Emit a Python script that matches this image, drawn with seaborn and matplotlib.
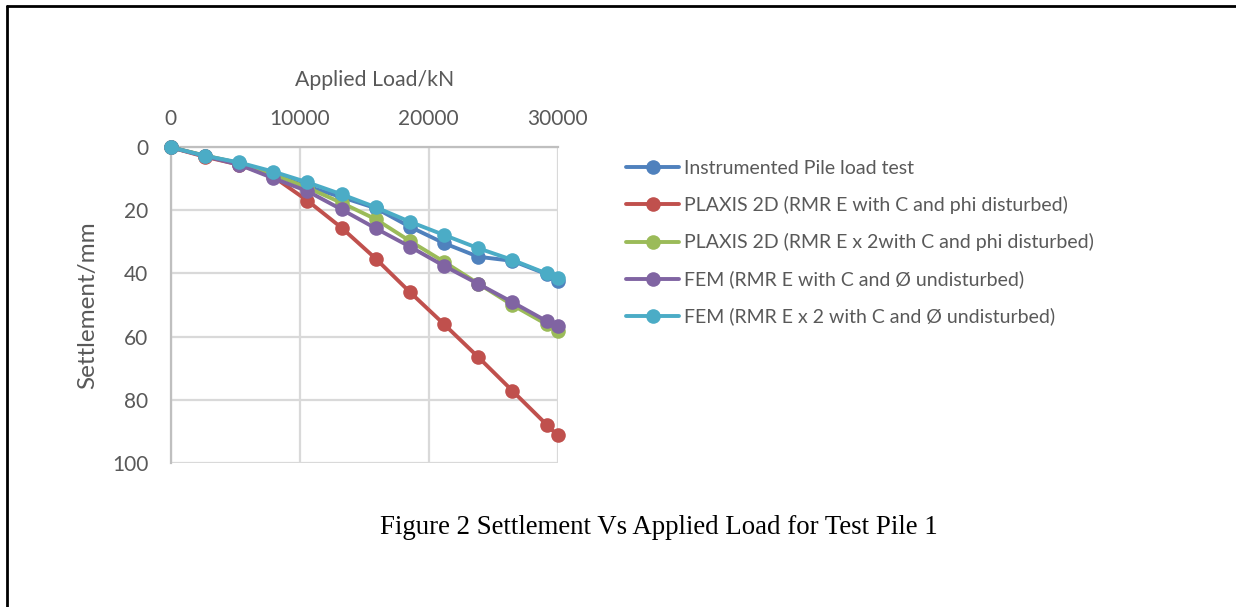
import matplotlib
matplotlib.use("Agg")
import matplotlib.pyplot as plt
from matplotlib.lines import Line2D
import seaborn as sns
import pandas as pd

# Applied load steps (kN)
loads = [0, 2650, 5300, 7950, 10600, 13250, 15900, 18550, 21200, 23850, 26500, 29150, 30000]

# Settlement (mm) for each series
pile_test = [0, 2.7, 5.0, 8.6, 12.4, 15.8, 19.3, 25.2, 30.4, 34.7, 36.0, 40.2, 42.3]
plaxis_e = [0, 3.0, 5.5, 9.3, 16.9, 25.5, 35.3, 45.9, 56.1, 66.5, 77.2, 87.9, 91.3]
plaxis_2e = [0, 2.6, 5.0, 8.6, 12.8, 17.6, 22.8, 29.7, 36.3, 43.2, 50.0, 56.1, 58.2]
fem_e = [0, 2.8, 5.5, 9.8, 13.9, 19.7, 25.7, 31.5, 37.6, 43.3, 49.1, 55.1, 56.6]
fem_2e = [0, 2.7, 4.8, 7.7, 11.1, 14.9, 19.0, 23.6, 27.8, 32.0, 35.7, 40.0, 41.5]

series_names = [
    "Instrumented Pile load test",
    "PLAXIS 2D (RMR E with C and phi disturbed)",
    "PLAXIS 2D (RMR E x 2with C and phi disturbed)",
    "FEM (RMR E with C and \u00d8 undisturbed)",
    "FEM (RMR E x 2 with C and \u00d8 undisturbed)",
]
series_values = [pile_test, plaxis_e, plaxis_2e, fem_e, fem_2e]
colors = ["#4F81BD", "#C0504D", "#9BBB59", "#8064A2", "#4BACC6"]

x_ticks = [0, 10000, 20000, 30000]
y_ticks = [0, 20, 40, 60, 80, 100]

sns.set_theme(style="white")
plt.rcParams["font.family"] = ["Lato", "DejaVu Sans"]
text_color = "#595959"
grid_color = "#D9D9D9"

frames = []
for name, vals in zip(series_names, series_values):
    frames.append(pd.DataFrame({"load": loads, "settlement": vals, "series": name}))
df = pd.concat(frames, ignore_index=True)

fig = plt.figure(figsize=(12.36, 6.07), dpi=100)
W, H = 1236, 607
left, right, top, bottom = 170.7, 557.5, 147.3, 462.7
ax = fig.add_axes([left / W, 1 - bottom / H, (right - left) / W, (bottom - top) / H])

for name, color in zip(series_names, colors):
    sub = df[df["series"] == name]
    sns.lineplot(data=sub, x="load", y="settlement", ax=ax, color=color,
                 marker="o", markersize=10.5, markeredgecolor=color,
                 markeredgewidth=0, linewidth=2.8, label=name, sort=False,
                 zorder=3, clip_on=False)

ax.set_xlim(0, 30000)
ax.set_ylim(100, 0)
ax.set_xticks(x_ticks)
ax.set_yticks(y_ticks)
ax.xaxis.tick_top()
ax.xaxis.set_label_position("top")
ax.tick_params(axis="both", length=0, labelsize=15, labelcolor=text_color)
ax.tick_params(axis="x", pad=13.5)
ax.tick_params(axis="y", pad=16)
ax.grid(True, color=grid_color, linewidth=1.6)
for side, sp in ax.spines.items():
    sp.set_visible(side in ("left", "top"))
    sp.set_color("#BFBFBF")
    sp.set_linewidth(1.6)

ax.set_xlabel("Applied Load/kN", fontsize=15.3, color=text_color)
ax.xaxis.label.set_va("center")
ax.xaxis.set_label_coords(0.528, 1 + (top - 80) / (bottom - top))
ax.set_ylabel("Settlement/mm", fontsize=17.5, color=text_color)
ax.yaxis.label.set_va("center")
ax.yaxis.set_label_coords(-(left - 88) / (right - left), 0.5)

leg = ax.legend(loc="upper left", bbox_to_anchor=(626 / W, 1 - 160 / H),
                bbox_transform=fig.transFigure, frameon=False, fontsize=14,
                handlelength=2.75, handletextpad=0.25, labelspacing=0.985,
                borderaxespad=0, borderpad=0)
for t in leg.get_texts():
    t.set_color(text_color)

fig.text(659 / W, 1 - 528 / H, "Figure 2 Settlement Vs Applied Load for Test Pile 1",
         family="Liberation Serif", fontsize=19.4, color="black",
         ha="center", va="center")

# Page border lines (top and left)
fig.add_artist(Line2D([7 / W, 1], [1 - 6 / H, 1 - 6 / H], transform=fig.transFigure,
                      color="black", linewidth=2))
fig.add_artist(Line2D([7 / W, 7 / W], [1 - 6 / H, 0], transform=fig.transFigure,
                      color="black", linewidth=2))

fig.savefig("out.png", dpi=100, facecolor="white")
